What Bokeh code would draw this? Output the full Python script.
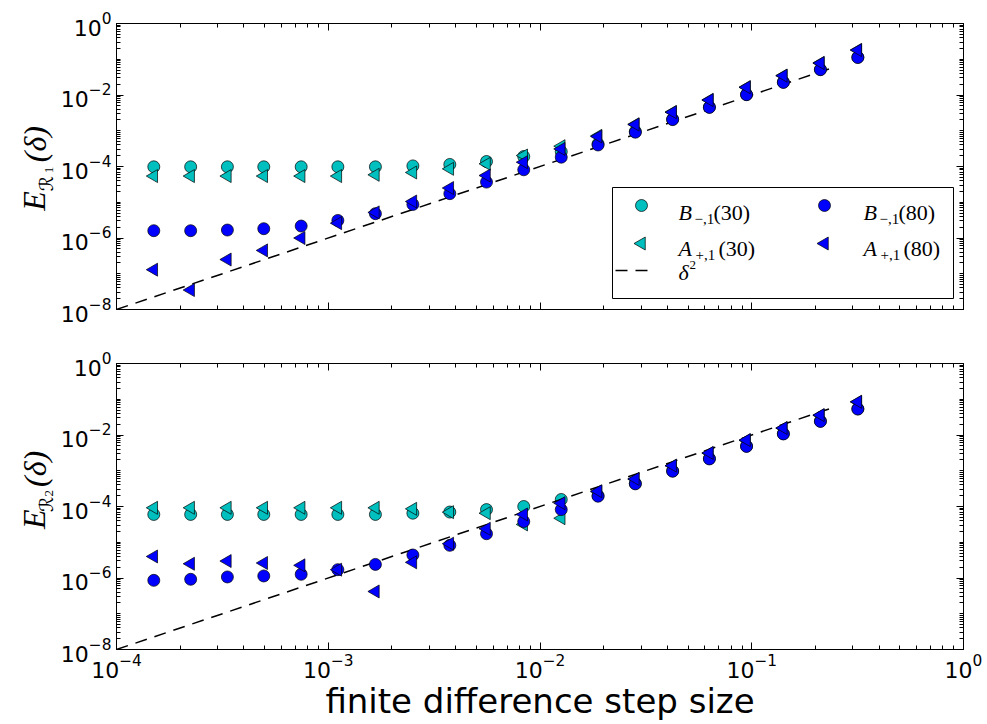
import numpy as np
from bokeh.plotting import figure
from bokeh.models import (LogAxis, FixedTicker, Range1d, LinearScale, Label,
                          CustomJSTickFormatter)
from bokeh.layouts import column, row
from bokeh.embed import file_html
from bokeh.resources import INLINE

# ---------------- data ----------------
step = [1.50e-4, 2.24e-4, 3.34e-4, 4.96e-4, 7.45e-4, 1.11e-3, 1.67e-3, 2.51e-3,
        3.75e-3, 5.59e-3, 8.38e-3, 1.26e-2, 1.88e-2, 2.82e-2, 4.23e-2, 6.31e-2,
        9.45e-2, 0.141, 0.211, 0.317]

# top panel: E_R1
top_B30 = [9.8e-5, 9.8e-5, 9.8e-5, 9.8e-5, 9.8e-5, 9.8e-5, 9.8e-5, 1.04e-4,
           1.14e-4, 1.38e-4, 1.90e-4, 2.6e-4, 4.3e-4, 9.5e-4, 2.1e-3, 4.6e-3,
           1.03e-2, 2.3e-2, 5.2e-2, 0.114]
top_A30 = [5.4e-5, 5.4e-5, 5.4e-5, 5.4e-5, 5.4e-5, 5.4e-5, 5.85e-5, 6.8e-5,
           8.6e-5, 1.19e-4, 2.03e-4, 3.7e-4, 7.2e-4, 1.52e-3, 3.35e-3, 7.3e-3,
           1.66e-2, 3.5e-2, 7.9e-2, 0.182]
top_B80 = [1.6e-6, 1.6e-6, 1.67e-6, 1.82e-6, 2.16e-6, 3.1e-6, 4.8e-6, 8.7e-6,
           1.74e-5, 3.66e-5, 8.1e-5, 1.82e-4, 4.0e-4, 9.1e-4, 2.05e-3, 4.5e-3,
           1.02e-2, 2.25e-2, 5.1e-2, 0.112]
top_A80 = [1.3e-7, 3.5e-8, 2.5e-7, 4.5e-7, 1.0e-6, 2.6e-6, 5.2e-6, 1.05e-5,
           2.5e-5, 5.6e-5, 1.32e-4, 3.1e-4, 6.9e-4, 1.49e-3, 3.3e-3, 7.2e-3,
           1.64e-2, 3.46e-2, 7.8e-2, 0.18]

# bottom panel: E_R2
bot_B30 = [6.0e-5, 6.0e-5, 6.0e-5, 6.0e-5, 6.0e-5, 6.0e-5, 6.0e-5, 6.5e-5,
           7.0e-5, 8.2e-5, 1.0e-4, 1.57e-4, 2.0e-4, 4.4e-4, 9.9e-4, 2.2e-3,
           4.9e-3, 1.09e-2, 2.45e-2, 5.4e-2]
bot_A30 = [9.2e-5, 9.2e-5, 9.2e-5, 9.2e-5, 9.2e-5, 9.2e-5, 9.2e-5, 8.6e-5,
           6.95e-5, 6.5e-5, 3.15e-5, 4.7e-5, 2.6e-4, 5.8e-4, 1.37e-3, 3.1e-3,
           7.1e-3, 1.55e-2, 3.55e-2, 8.4e-2]
bot_B80 = [8.6e-7, 9.2e-7, 1.07e-6, 1.14e-6, 1.27e-6, 1.71e-6, 2.4e-6, 4.4e-6,
           8.2e-6, 1.73e-5, 3.8e-5, 8.2e-5, 1.94e-4, 4.3e-4, 9.7e-4, 2.14e-3,
           4.8e-3, 1.07e-2, 2.4e-2, 5.3e-2]
bot_A80 = [4.0e-6, 2.5e-6, 2.98e-6, 2.63e-6, 2.26e-6, 1.71e-6, 4.2e-7, 2.74e-6,
           9.1e-6, 2.38e-5, 6.0e-5, 1.24e-4, 2.68e-4, 5.9e-4, 1.39e-3, 3.15e-3,
           7.2e-3, 1.57e-2, 3.6e-2, 8.5e-2]

# reference line delta^2
delta_ref = [1e-4, 0.235]

x_major = [1e-4, 1e-3, 1e-2, 1e-1, 1e0]
y_major = [1e-8, 1e-6, 1e-4, 1e-2, 1e0]

# legend entries: (main letter, subscript, argument)
legend_entries = [("B", "\u2212,1", "(30)"), ("A", "+,1", "(30)"),
                  ("B", "\u2212,1", "(80)"), ("A", "+,1", "(80)")]
delta_label = ("\u03B4", "2")
ylabel_parts = [("E", "\u211B", "1", "(\u03B4)"), ("E", "\u211B", "2", "(\u03B4)")]
xlabel = "finite difference step size"

CYAN = "#00BFBF"
BLUE = "#0000FF"
TICK_FONT = "DejaVu Sans"
TICK_SIZE = "22px"
SERIF = "Liberation Serif"
FW, FH = 847, 286   # frame size in px
YLW = 57            # width of the y-label strip
LEFT = 116          # frame left edge


def minor_list(lo, hi, majors):
    out = []
    for d in range(lo, hi):
        for k in range(1, 10):
            v = k * 10.0 ** d
            if not any(abs(v - m) / m < 1e-9 for m in majors):
                out.append(v)
    return out


x_minor = minor_list(-4, 0, x_major)
y_minor = minor_list(-8, 0, y_major)


def blank():
    return CustomJSTickFormatter(code="return ''")


def style_axis(ax):
    ax.axis_line_color = "black"
    ax.axis_line_width = 1
    ax.major_tick_line_color = "black"
    ax.minor_tick_line_color = "black"
    ax.major_tick_in = 7
    ax.major_tick_out = 0
    ax.minor_tick_in = 4
    ax.minor_tick_out = 0
    ax.major_label_text_font = TICK_FONT
    ax.major_label_text_font_size = TICK_SIZE
    ax.major_label_text_color = "black"


def lab(p, x, y, text, size, style="normal", angle=0.0, rng=None, font=SERIF):
    kw = {}
    if rng:
        kw = dict(x_range_name=rng, y_range_name=rng)
    p.add_layout(Label(x=x, y=y, text=text, text_font=font, text_font_size=size,
                       text_font_style=style, text_color="black",
                       text_align="left", text_baseline="alphabetic",
                       angle=angle, **kw))


def ylabel_strip(parts, height, border_bottom):
    q = figure(width=YLW, height=height, x_range=Range1d(0, YLW),
               y_range=Range1d(0, height), min_border=0,
               x_axis_location=None, y_axis_location=None,
               output_backend="svg", toolbar_location=None,
               background_fill_color="white", border_fill_color="white")
    q.grid.visible = False
    q.outline_line_color = None
    e, r, k, arg = parts
    rot = np.pi / 2
    b = border_bottom
    lab(q, 33, b + 89, e, "32px", "italic", rot)
    lab(q, 45, b + 112, r, "19px", "normal", rot, font="DejaVu Sans")
    lab(q, 48, b + 133, k, "13px", "normal", rot)
    lab(q, 34, b + 146, arg, "32px", "italic", rot)
    return q


def make_panel(B30, A30, B80, A80, show_x, border_top, border_bottom, legend):
    p = figure(x_axis_type="log", y_axis_type="log",
               x_range=Range1d(1e-4, 1e0), y_range=Range1d(1e-8, 1e0),
               frame_width=FW, frame_height=FH,
               min_border_left=LEFT - YLW, min_border_right=24,
               min_border_top=border_top, min_border_bottom=border_bottom,
               output_backend="svg", toolbar_location=None,
               background_fill_color="white", border_fill_color="white")
    # pixel coordinate system of the frame, used for the legend decorations
    p.extra_x_ranges = {"px": Range1d(0, FW)}
    p.extra_y_ranges = {"px": Range1d(0, FH)}
    p.extra_x_scales = {"px": LinearScale()}
    p.extra_y_scales = {"px": LinearScale()}

    p.grid.visible = False
    p.outline_line_color = "black"
    p.outline_line_width = 1

    p.xaxis.ticker = FixedTicker(ticks=x_major, minor_ticks=x_minor)
    p.yaxis.ticker = FixedTicker(ticks=y_major, minor_ticks=y_minor)
    for ax in p.xaxis + p.yaxis:
        style_axis(ax)
    p.yaxis.major_label_standoff = 5
    if show_x:
        p.xaxis.major_label_standoff = 4
        p.xaxis.axis_label = xlabel
        p.xaxis.axis_label_text_font = "DejaVu Sans"
        p.xaxis.axis_label_text_font_style = "normal"
        p.xaxis.axis_label_text_font_size = "34px"
        p.xaxis.axis_label_text_color = "black"
        p.xaxis.axis_label_standoff = 0
    else:
        p.xaxis.formatter = blank()

    top_ax = LogAxis(ticker=FixedTicker(ticks=x_major, minor_ticks=x_minor), formatter=blank())
    right_ax = LogAxis(ticker=FixedTicker(ticks=y_major, minor_ticks=y_minor), formatter=blank())
    style_axis(top_ax)
    style_axis(right_ax)
    p.add_layout(top_ax, "above")
    p.add_layout(right_ax, "right")

    mk = dict(line_color="black", line_width=0.7)
    p.scatter(step, B30, marker="circle", size=12, fill_color=CYAN, **mk)
    p.scatter(step, A30, marker="triangle", angle=np.pi / 2, size=13, fill_color=CYAN, **mk)
    p.line(delta_ref, [d ** 2 for d in delta_ref], line_color="black",
           line_width=1.5, line_dash="12 8")
    p.scatter(step, B80, marker="circle", size=12, fill_color=BLUE, **mk)
    p.scatter(step, A80, marker="triangle", angle=np.pi / 2, size=13, fill_color=BLUE, **mk)

    if legend:
        # legend frame
        p.quad(left=[496], right=[837], bottom=[11], top=[122],
               x_range_name="px", y_range_name="px",
               fill_color="white", line_color="black", line_width=1)
        col_glyph = [525, 708]
        col_text = [562, 747]
        row_y = [104, 66]
        colors = [CYAN, BLUE]
        for c in range(2):
            p.scatter([col_glyph[c]], [row_y[0]], marker="circle", size=12,
                      fill_color=colors[c], x_range_name="px", y_range_name="px", **mk)
            p.scatter([col_glyph[c]], [row_y[1]], marker="triangle", angle=np.pi / 2,
                      size=13, fill_color=colors[c], x_range_name="px",
                      y_range_name="px", **mk)
            for rr in range(2):
                letter, sub, argt = legend_entries[2 * c + rr]
                base = [97, 61][rr]
                lab(p, col_text[c], base, letter, "22px", "italic", rng="px")
                lab(p, col_text[c] + [16, 17][rr], base - 6, sub, "15px", rng="px")
                lab(p, col_text[c] + [35, 40][rr], base, argt, "22px", rng="px")
        p.line([499, 536], [39, 39], x_range_name="px", y_range_name="px",
               line_color="black", line_width=1.5, line_dash="12 8")
        lab(p, col_text[0], 37, delta_label[0], "22px", "italic", rng="px")
        lab(p, col_text[0] + 11, 45, delta_label[1], "13px", rng="px")
    return p


TOP1, BOT1 = 23, 27
TOP2, BOT2 = 27, 74
p1 = make_panel(top_B30, top_A30, top_B80, top_A80, False, TOP1, BOT1, True)
p2 = make_panel(bot_B30, bot_A30, bot_B80, bot_A80, True, TOP2, BOT2, False)
y1 = ylabel_strip(ylabel_parts[0], TOP1 + FH + BOT1, BOT1)
y2 = ylabel_strip(ylabel_parts[1], TOP2 + FH + BOT2, BOT2)

layout = column(row(y1, p1, spacing=0), row(y2, p2, spacing=0), spacing=0)
open("out.html", "w").write(file_html(layout, INLINE))
